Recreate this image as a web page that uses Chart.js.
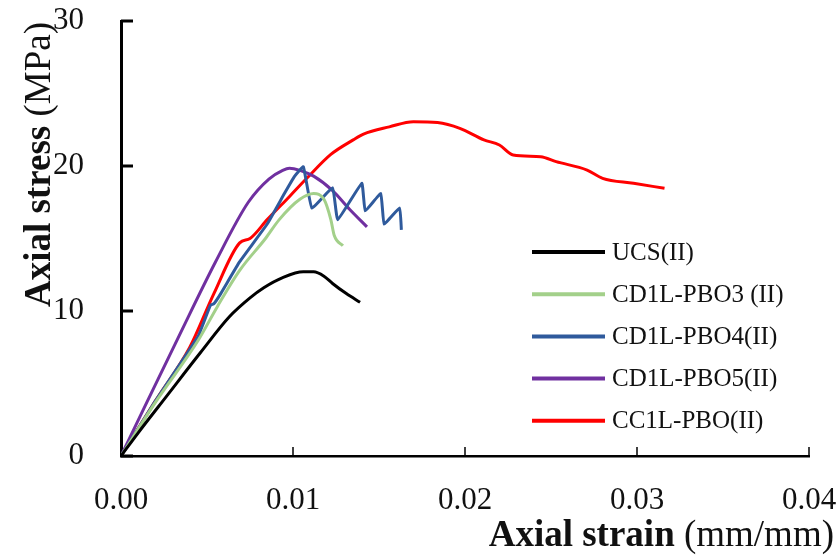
<!DOCTYPE html>
<html>
<head>
<meta charset="utf-8">
<script src="https://cdn.jsdelivr.net/npm/chart.js@4"></script>
<style>
  html, body { margin: 0; padding: 0; background: #fff; }
  #wrap { width: 838px; height: 555px; }
</style>
</head>
<body>
<div id="wrap"><canvas id="c" width="838" height="555"></canvas></div>
<script>
/* ── Data ────────────────────────────────────────────────────── */
const LABELS = ["UCS(II)", "CD1L-PBO3 (II)", "CD1L-PBO4(II)", "CD1L-PBO5(II)", "CC1L-PBO(II)"];
const COLORS = ["#000000", "#a3d08a", "#2f5a9c", "#7030a0", "#ff0000"];

const ucsStrain = [0, 0.001, 0.0027, 0.0046, 0.0063, 0.0075, 0.0083, 0.0094, 0.0106, 0.0112, 0.0118, 0.0123, 0.0131, 0.0139];
const ucsStress = [0, 1.6, 4.2, 7.1, 9.6, 10.9, 11.6, 12.3, 12.7, 12.7, 12.4, 11.9, 11.2, 10.6];

const pbo3Strain = [0, 0.002, 0.0045, 0.0056, 0.0069, 0.0084, 0.0092, 0.0104, 0.0112, 0.0118, 0.0122, 0.0124, 0.0129];
const pbo3Stress = [0, 3.7, 8.0, 10.3, 12.8, 15.0, 16.3, 17.7, 18.1, 17.7, 16.3, 15.2, 14.5];

const pbo4Strain = [0, 0.002, 0.0045, 0.0052, 0.0054, 0.0058, 0.0069, 0.0085, 0.0095, 0.0101, 0.0106, 0.0111, 0.0123, 0.0126, 0.0140, 0.0142, 0.0151, 0.0153, 0.0162, 0.0163];
const pbo4Stress = [0, 3.8, 8.3, 10.4, 10.5, 11.2, 13.4, 16.0, 18.1, 19.3, 19.95, 17.1, 18.5, 16.3, 18.8, 16.9, 18.1, 16.0, 17.1, 15.6];

const pbo5Strain = [0, 0.0015, 0.0033, 0.0055, 0.0074, 0.0086, 0.0094, 0.0098, 0.0104, 0.0112, 0.0123, 0.0133, 0.0143];
const pbo5Stress = [0, 3.7, 8.1, 13.4, 17.5, 19.1, 19.7, 19.85, 19.7, 19.3, 18.3, 17.0, 15.8];

const cc1Strain = [0, 0.002, 0.004, 0.0054, 0.0069, 0.0075, 0.0085, 0.0098, 0.0108, 0.0122, 0.0135, 0.0141, 0.0156, 0.0170, 0.0184, 0.0197, 0.0211, 0.0220, 0.0228, 0.0244, 0.0253, 0.0271, 0.0280, 0.0298, 0.0316];
const cc1Stress = [0, 3.8, 7.5, 11.2, 14.7, 15.0, 16.3, 17.9, 19.15, 20.8, 21.8, 22.2, 22.7, 23.06, 23.0, 22.6, 21.8, 21.45, 20.76, 20.64, 20.3, 19.72, 19.15, 18.81, 18.46];

const X_TICKS = [0, 0.01, 0.02, 0.03, 0.04];
const Y_TICKS = [0, 10, 20, 30];

const SERIF = "'Liberation Serif', 'Times New Roman', serif";

function pts(xs, ys) { return xs.map((x, i) => ({ x: x, y: ys[i] })); }

const SERIES = [
  pts(ucsStrain, ucsStress),
  pts(pbo3Strain, pbo3Stress),
  pts(pbo4Strain, pbo4Stress),
  pts(pbo5Strain, pbo5Stress),
  pts(cc1Strain, cc1Stress)
];

/* ── Inner ticks, legend and axis titles ─────────────────────── */
const decor = {
  id: "decor",
  afterDraw(chart) {
    const ctx = chart.ctx;
    const xs = chart.scales.x, ys = chart.scales.y;
    const area = chart.chartArea;
    ctx.save();
    ctx.strokeStyle = "#000";
    ctx.lineCap = "butt";

    // y ticks point into the plot
    ctx.lineWidth = 3;
    Y_TICKS.forEach(v => {
      const py = ys.getPixelForValue(v);
      ctx.beginPath(); ctx.moveTo(area.left, py); ctx.lineTo(area.left + 12, py); ctx.stroke();
    });
    // x ticks point up
    ctx.lineWidth = 1.5;
    X_TICKS.slice(1).forEach(v => {
      const px = xs.getPixelForValue(v);
      ctx.beginPath(); ctx.moveTo(px, area.bottom); ctx.lineTo(px, area.bottom - 9); ctx.stroke();
    });

    // legend
    ctx.font = "25px " + SERIF;
    ctx.textBaseline = "middle";
    ctx.textAlign = "left";
    chart.data.datasets.forEach((ds, i) => {
      const y = 252 + i * 42.2;
      ctx.strokeStyle = ds.borderColor;
      ctx.lineWidth = 4;
      ctx.beginPath(); ctx.moveTo(532, y); ctx.lineTo(605, y); ctx.stroke();
      ctx.fillStyle = "#111";
      ctx.fillText(ds.label, 612, y + 1);
    });

    // axis titles: bold name + normal unit
    const drawTitle = (bold, normal) => {
      ctx.font = "bold 37px " + SERIF;
      const wb = ctx.measureText(bold).width;
      ctx.font = "37px " + SERIF;
      const wn = ctx.measureText(normal).width;
      ctx.font = "bold 37px " + SERIF;
      ctx.fillText(bold, -(wb + wn), 0);
      ctx.font = "37px " + SERIF;
      ctx.fillText(normal, -wn, 0);
    };
    ctx.fillStyle = "#111";
    ctx.textBaseline = "alphabetic";
    ctx.textAlign = "left";
    ctx.save();
    ctx.translate(834, 546);
    drawTitle("Axial strain", " (mm/mm)");
    ctx.restore();

    ctx.save();
    ctx.translate(50, 22);
    ctx.rotate(-Math.PI / 2);
    drawTitle("Axial stress", " (MPa)");
    ctx.restore();

    ctx.restore();
  }
};

new Chart(document.getElementById("c"), {
  type: "line",
  data: {
    datasets: SERIES.map((d, i) => ({
      label: LABELS[i],
      data: d,
      borderColor: COLORS[i],
      backgroundColor: COLORS[i],
      borderWidth: 3,
      pointRadius: 0,
      fill: false,
      cubicInterpolationMode: i === 2 ? "default" : "monotone",
      tension: i === 2 ? 0.1 : 0.4
    }))
  },
  options: {
    responsive: false,
    animation: false,
    layout: { padding: { left: 0, right: 29, top: 21, bottom: 0 } },
    plugins: { legend: { display: false }, tooltip: { enabled: false } },
    scales: {
      x: {
        type: "linear",
        min: 0, max: 0.04,
        afterFit: s => { s.height = 99; s.paddingLeft = 0; s.paddingRight = 0; },
        afterBuildTicks: s => { s.ticks = X_TICKS.map(v => ({ value: v })); },
        ticks: {
          callback: v => v.toFixed(2),
          font: { family: SERIF, size: 31 },
          color: "#111",
          padding: 18,
          maxRotation: 0
        },
        grid: { display: false },
        border: { display: true, color: "#000", width: 2.5 }
      },
      y: {
        min: 0, max: 30,
        afterFit: s => { s.width = 121; s.paddingTop = 0; s.paddingBottom = 0; },
        afterBuildTicks: s => { s.ticks = Y_TICKS.map(v => ({ value: v })); },
        ticks: {
          font: { family: SERIF, size: 31 },
          color: "#111",
          padding: 29
        },
        grid: { display: false },
        border: { display: true, color: "#000", width: 3 }
      }
    }
  },
  plugins: [decor]
});
</script>
</body>
</html>
